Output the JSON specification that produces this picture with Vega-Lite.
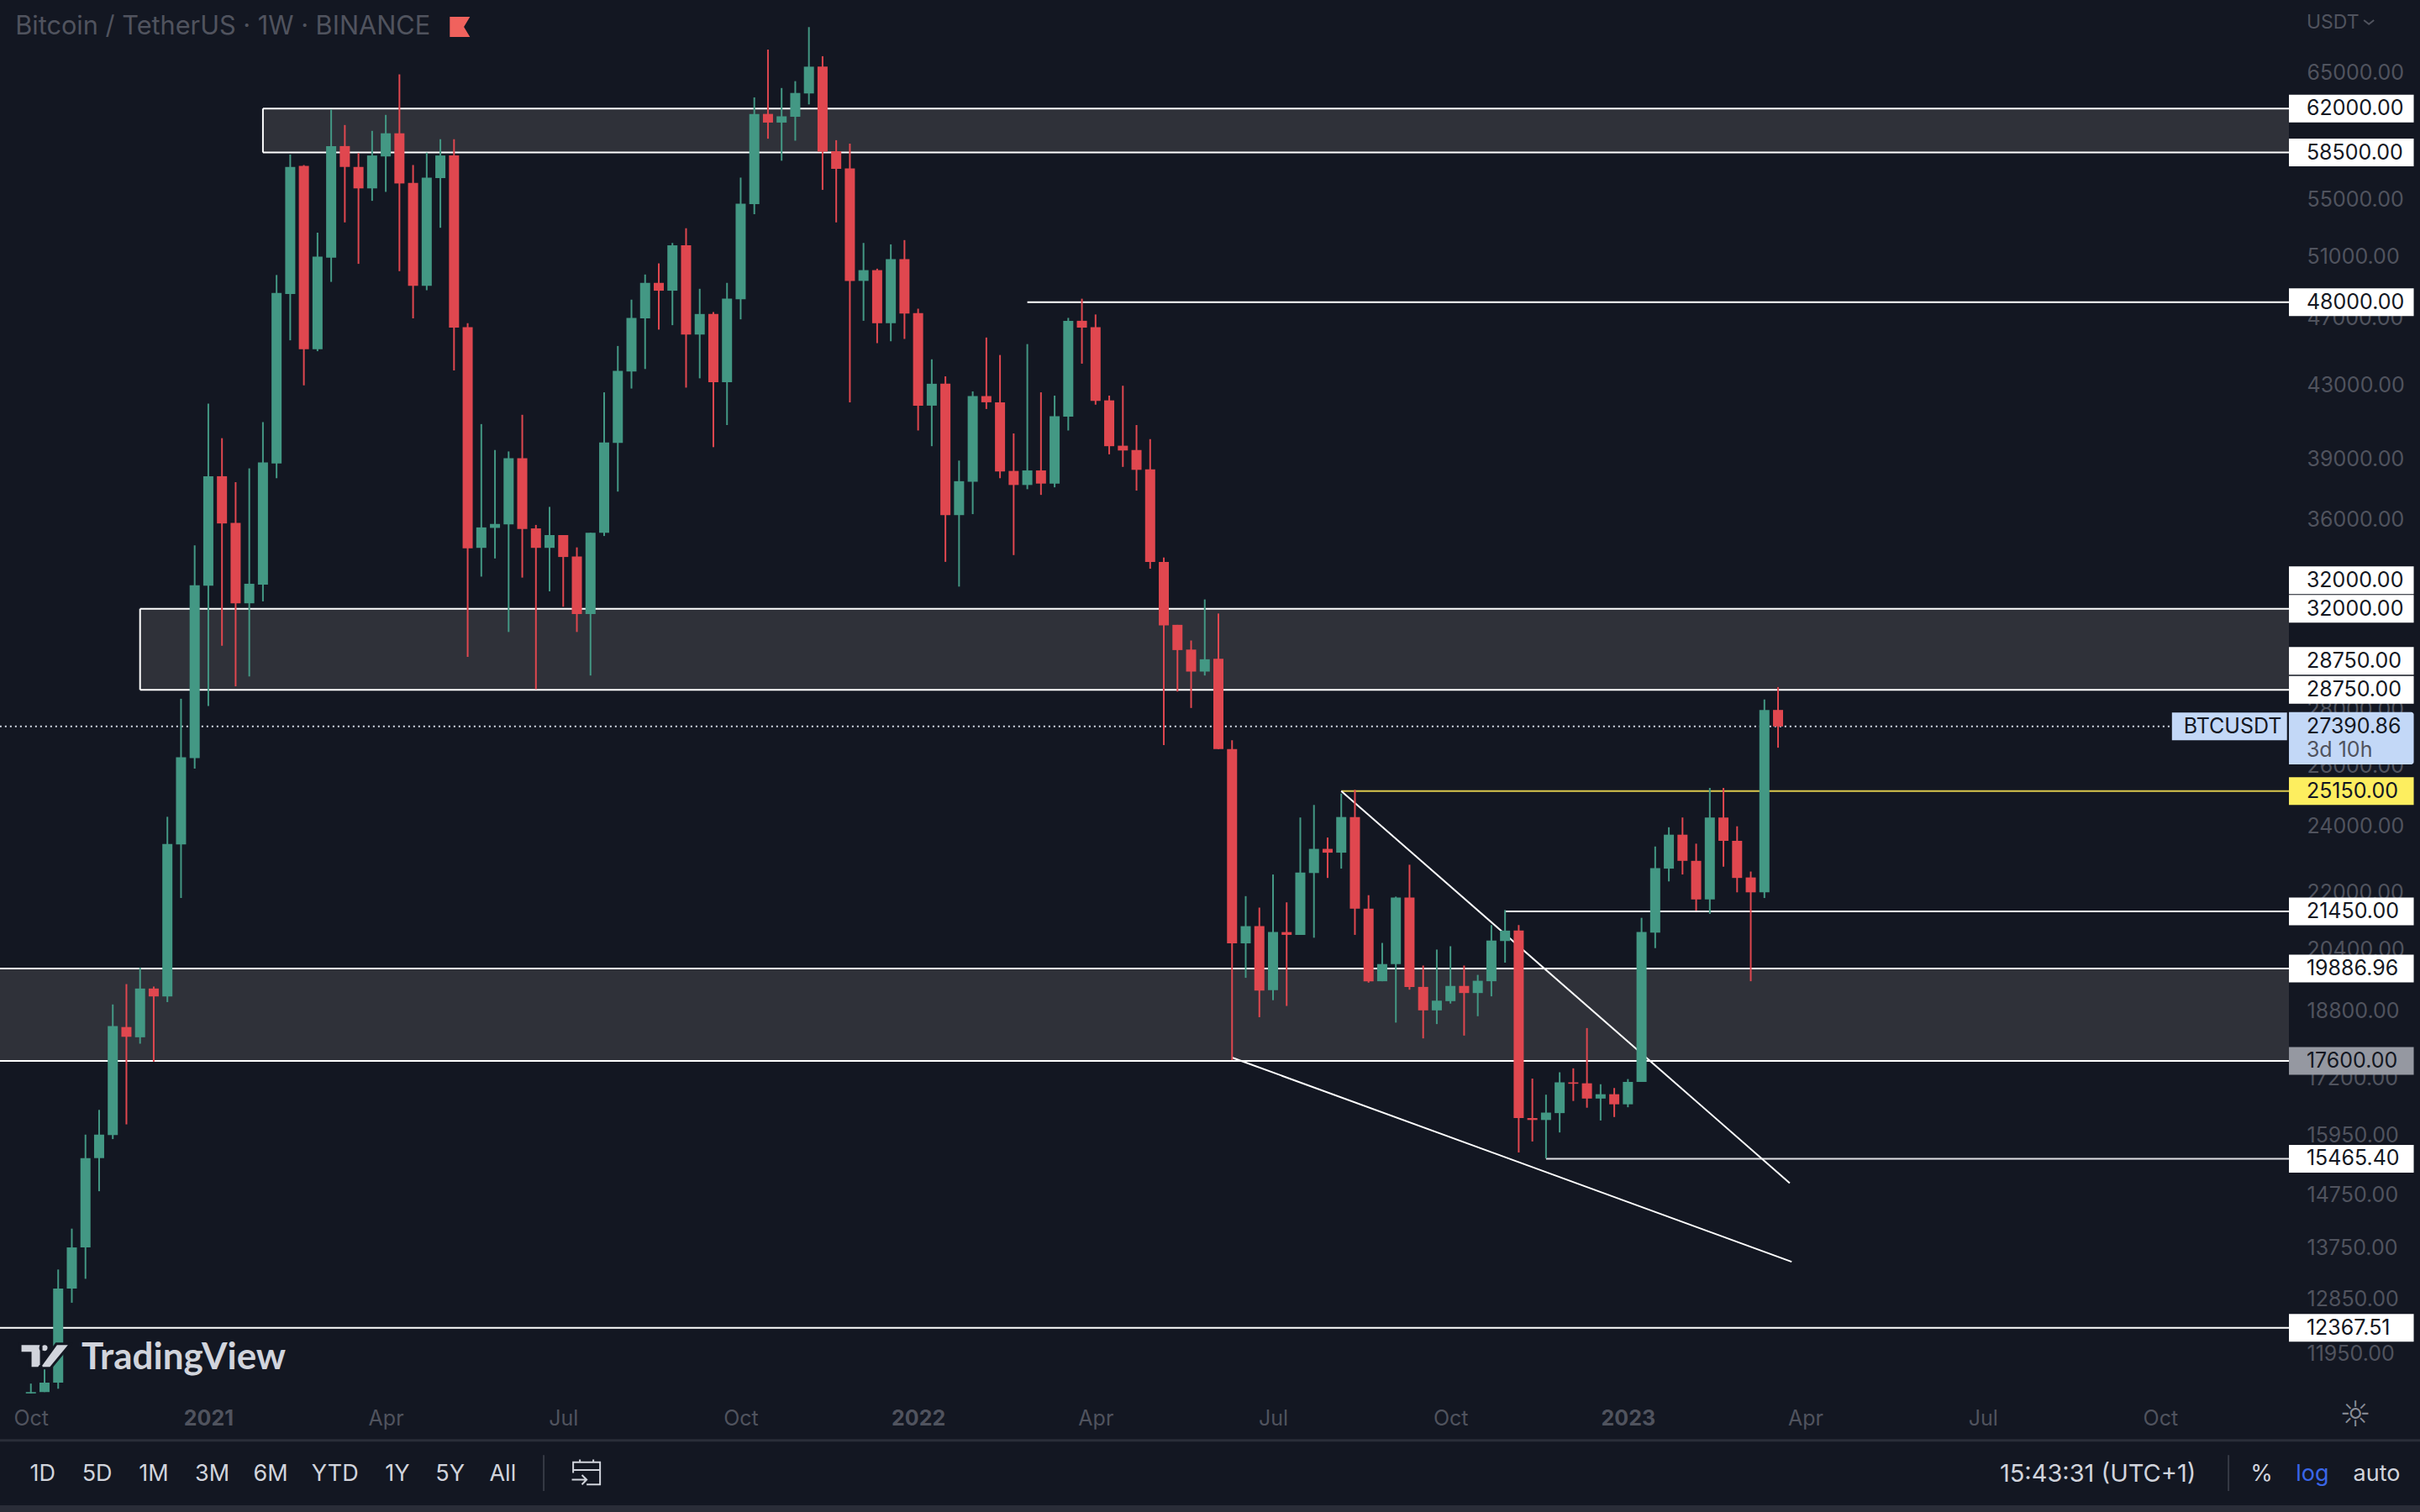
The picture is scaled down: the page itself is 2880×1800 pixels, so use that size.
{
  "$schema": "https://vega.github.io/schema/vega-lite/v6.json",
  "width": 2880,
  "height": 1800,
  "autosize": {"type": "none"},
  "padding": 0,
  "background": "#131722",
  "config": {"view": {"stroke": null}, "font": "Inter", "scale": {"continuousPadding": 0}},
  "resolve": {"axis": {"x": "independent", "y": "independent"}},
  "datasets": {
    "candles": [
      {"date":"2020-10-05","open":11340,"high":11489,"low":11340,"close":11361},
      {"date":"2020-10-12","open":11361,"high":11730,"low":11361,"close":11503},
      {"date":"2020-10-19","open":11503,"high":13359,"low":11411,"close":13027},
      {"date":"2020-10-26","open":13027,"high":14101,"low":12785,"close":13755},
      {"date":"2020-11-02","open":13755,"high":15967,"low":13196,"close":15479},
      {"date":"2020-11-09","open":15479,"high":16498,"low":14816,"close":15967},
      {"date":"2020-11-16","open":15957,"high":18966,"low":15873,"close":18433},
      {"date":"2020-11-23","open":18408,"high":19483,"low":16185,"close":18172},
      {"date":"2020-11-30","open":18160,"high":19912,"low":18007,"close":19369},
      {"date":"2020-12-07","open":19369,"high":19420,"low":17584,"close":19168},
      {"date":"2020-12-14","open":19168,"high":24306,"low":19025,"close":23451},
      {"date":"2020-12-21","open":23436,"high":28411,"low":21832,"close":26296},
      {"date":"2020-12-28","open":26264,"high":34794,"low":25906,"close":33015},
      {"date":"2021-01-04","open":32994,"high":41966,"low":28140,"close":38130},
      {"date":"2021-01-11","open":38130,"high":40097,"low":30474,"close":35822},
      {"date":"2021-01-18","open":35845,"high":37831,"low":28882,"close":32233},
      {"date":"2021-01-25","open":32233,"high":38528,"low":29262,"close":33077},
      {"date":"2021-02-01","open":33036,"high":40958,"low":32316,"close":38827},
      {"date":"2021-02-08","open":38777,"high":49751,"low":38030,"close":48578},
      {"date":"2021-02-15","open":48518,"high":58340,"low":45634,"close":57392},
      {"date":"2021-02-22","open":57465,"high":57538,"low":43003,"close":45097},
      {"date":"2021-03-01","open":45097,"high":52614,"low":44984,"close":50972},
      {"date":"2021-03-08","open":50907,"high":61909,"low":49301,"close":58997},
      {"date":"2021-03-15","open":58997,"high":60663,"low":53334,"close":57392},
      {"date":"2021-03-22","open":57392,"high":58450,"low":50490,"close":55786},
      {"date":"2021-03-29","open":55786,"high":60196,"low":54875,"close":58267},
      {"date":"2021-04-05","open":58194,"high":61480,"low":55530,"close":60002},
      {"date":"2021-04-12","open":60002,"high":64864,"low":50004,"close":56151},
      {"date":"2021-04-19","open":56187,"high":57538,"low":46980,"close":49044},
      {"date":"2021-04-26","open":49044,"high":58487,"low":48759,"close":56588},
      {"date":"2021-05-03","open":56552,"high":59535,"low":52957,"close":58267},
      {"date":"2021-05-10","open":58267,"high":59535,"low":43852,"close":46407},
      {"date":"2021-05-17","open":46437,"high":46678,"low":30030,"close":34662},
      {"date":"2021-05-24","open":34684,"high":40852,"low":33391,"close":35635},
      {"date":"2021-05-31","open":35612,"high":39474,"low":34202,"close":35799},
      {"date":"2021-06-07","open":35776,"high":39400,"low":31034,"close":39051},
      {"date":"2021-06-14","open":39051,"high":41356,"low":33347,"close":35565},
      {"date":"2021-06-21","open":35588,"high":35752,"low":28773,"close":34684},
      {"date":"2021-06-28","open":34684,"high":36616,"low":32748,"close":35276},
      {"date":"2021-07-05","open":35276,"high":35276,"low":32089,"close":34268},
      {"date":"2021-07-12","open":34290,"high":34706,"low":31034,"close":31781},
      {"date":"2021-07-19","open":31781,"high":35385,"low":29298,"close":35385},
      {"date":"2021-07-26","open":35385,"high":42603,"low":35232,"close":39873},
      {"date":"2021-08-02","open":39848,"high":45295,"low":37364,"close":43824},
      {"date":"2021-08-09","open":43795,"high":48156,"low":42816,"close":47010},
      {"date":"2021-08-16","open":46980,"high":49783,"low":43937,"close":49237},
      {"date":"2021-08-23","open":49237,"high":50522,"low":46286,"close":48729},
      {"date":"2021-08-30","open":48729,"high":51904,"low":46558,"close":51743},
      {"date":"2021-09-06","open":51743,"high":52924,"low":42869,"close":45985},
      {"date":"2021-09-13","open":45985,"high":48851,"low":43399,"close":47251},
      {"date":"2021-09-20","open":47251,"high":47372,"low":39624,"close":43173},
      {"date":"2021-09-27","open":43173,"high":49237,"low":40799,"close":48216},
      {"date":"2021-10-04","open":48186,"high":56588,"low":46919,"close":54669},
      {"date":"2021-10-11","open":54635,"high":62920,"low":53916,"close":61558},
      {"date":"2021-10-18","open":61558,"high":67021,"low":59574,"close":60858},
      {"date":"2021-10-25","open":60858,"high":63703,"low":57866,"close":61364},
      {"date":"2021-11-01","open":61325,"high":64284,"low":59418,"close":63288},
      {"date":"2021-11-08","open":63247,"high":69046,"low":62337,"close":65528},
      {"date":"2021-11-15","open":65528,"high":66440,"low":55676,"close":58560},
      {"date":"2021-11-22","open":58596,"high":59457,"low":53334,"close":57246},
      {"date":"2021-11-29","open":57282,"high":59185,"low":42046,"close":49366},
      {"date":"2021-12-06","open":49366,"high":51904,"low":46829,"close":50072},
      {"date":"2021-12-13","open":50072,"high":50168,"low":45465,"close":46678},
      {"date":"2021-12-20","open":46678,"high":51807,"low":45578,"close":50811},
      {"date":"2021-12-27","open":50811,"high":52101,"low":45719,"close":47281},
      {"date":"2022-01-03","open":47312,"high":47583,"low":40507,"close":41860},
      {"date":"2022-01-10","open":41860,"high":44503,"low":39674,"close":43088},
      {"date":"2022-01-17","open":43088,"high":43512,"low":34048,"close":36219},
      {"date":"2022-01-24","open":36219,"high":38926,"low":32953,"close":37881},
      {"date":"2022-01-31","open":37856,"high":42656,"low":36266,"close":42391},
      {"date":"2022-02-07","open":42391,"high":45804,"low":41674,"close":42046},
      {"date":"2022-02-14","open":42046,"high":44757,"low":38030,"close":38373},
      {"date":"2022-02-21","open":38398,"high":40348,"low":34355,"close":37691},
      {"date":"2022-02-28","open":37691,"high":45408,"low":37481,"close":38423},
      {"date":"2022-03-07","open":38423,"high":42603,"low":37200,"close":37761},
      {"date":"2022-03-14","open":37761,"high":42418,"low":37574,"close":41276},
      {"date":"2022-03-21","open":41250,"high":47010,"low":40507,"close":46829},
      {"date":"2022-03-28","open":46829,"high":48216,"low":44248,"close":46407},
      {"date":"2022-04-04","open":46437,"high":47221,"low":41913,"close":42126},
      {"date":"2022-04-11","open":42152,"high":42418,"low":39250,"close":39674},
      {"date":"2022-04-18","open":39699,"high":42975,"low":38603,"close":39450},
      {"date":"2022-04-25","open":39474,"high":40799,"low":37411,"close":38453},
      {"date":"2022-05-02","open":38478,"high":40047,"low":33741,"close":34048},
      {"date":"2022-05-09","open":34048,"high":34245,"low":26724,"close":31308},
      {"date":"2022-05-16","open":31328,"high":31328,"low":28683,"close":30300},
      {"date":"2022-05-23","open":30320,"high":30686,"low":28067,"close":29451},
      {"date":"2022-05-30","open":29451,"high":32398,"low":29298,"close":29934},
      {"date":"2022-06-06","open":29950,"high":31801,"low":26581,"close":26581},
      {"date":"2022-06-13","open":26581,"high":26897,"low":17623,"close":20561},
      {"date":"2022-06-20","open":20561,"high":21886,"low":19645,"close":21034},
      {"date":"2022-06-27","open":21034,"high":21556,"low":18649,"close":19315},
      {"date":"2022-07-04","open":19327,"high":22521,"low":19073,"close":20870},
      {"date":"2022-07-11","open":20870,"high":21707,"low":18928,"close":20793},
      {"date":"2022-07-18","open":20793,"high":24284,"low":20793,"close":22579},
      {"date":"2022-07-25","open":22565,"high":24690,"low":20715,"close":23297},
      {"date":"2022-08-01","open":23297,"high":23649,"low":22418,"close":23180},
      {"date":"2022-08-08","open":23180,"high":25064,"low":22696,"close":24299},
      {"date":"2022-08-15","open":24299,"high":25189,"low":20793,"close":21529},
      {"date":"2022-08-22","open":21529,"high":21913,"low":19520,"close":19557},
      {"date":"2022-08-29","open":19557,"high":20573,"low":19557,"close":20006},
      {"date":"2022-09-05","open":20006,"high":21872,"low":18516,"close":21845},
      {"date":"2022-09-12","open":21845,"high":22814,"low":19339,"close":19411},
      {"date":"2022-09-19","open":19411,"high":19967,"low":18133,"close":18818},
      {"date":"2022-09-26","open":18818,"high":20393,"low":18480,"close":19061},
      {"date":"2022-10-03","open":19049,"high":20483,"low":18988,"close":19436},
      {"date":"2022-10-10","open":19436,"high":19967,"low":18201,"close":19254},
      {"date":"2022-10-17","open":19254,"high":19722,"low":18673,"close":19569},
      {"date":"2022-10-24","open":19557,"high":21064,"low":19170,"close":20638},
      {"date":"2022-10-31","open":20625,"high":21487,"low":20044,"close":20911},
      {"date":"2022-11-07","open":20911,"high":21064,"low":15594,"close":16321},
      {"date":"2022-11-14","open":16321,"high":17195,"low":15823,"close":16279},
      {"date":"2022-11-21","open":16279,"high":16833,"low":15474,"close":16439},
      {"date":"2022-11-28","open":16428,"high":17339,"low":16013,"close":17110},
      {"date":"2022-12-05","open":17110,"high":17430,"low":16694,"close":17078},
      {"date":"2022-12-12","open":17088,"high":18383,"low":16545,"close":16747},
      {"date":"2022-12-19","open":16747,"high":17067,"low":16268,"close":16843},
      {"date":"2022-12-26","open":16843,"high":16982,"low":16343,"close":16620},
      {"date":"2023-01-02","open":16620,"high":17184,"low":16556,"close":17120},
      {"date":"2023-01-09","open":17120,"high":21267,"low":17120,"close":20870},
      {"date":"2023-01-16","open":20857,"high":23370,"low":20432,"close":22711},
      {"date":"2023-01-23","open":22696,"high":23972,"low":22316,"close":23738},
      {"date":"2023-01-30","open":23738,"high":24284,"low":22521,"close":22931},
      {"date":"2023-02-06","open":22931,"high":23458,"low":21474,"close":21790},
      {"date":"2023-02-13","open":21790,"high":25252,"low":21378,"close":24284},
      {"date":"2023-02-20","open":24284,"high":25252,"low":22755,"close":23546},
      {"date":"2023-02-27","open":23546,"high":24003,"low":21996,"close":22418},
      {"date":"2023-03-06","open":22433,"high":22609,"low":19557,"close":21996},
      {"date":"2023-03-13","open":21996,"high":28384,"low":21831,"close":27994},
      {"date":"2023-03-20","open":27994,"high":28853,"low":26631,"close":27390.86}
    ],
    "zones": [
      {"date":"2021-02-01","end":"2023-12-07","low":58500,"high":62000},
      {"date":"2020-11-30","end":"2023-12-07","low":28750,"high":32000},
      {"date":"2020-09-01","end":"2023-12-07","low":17600,"high":19886.96}
    ],
    "rays": [
      {"date":"2022-02-28","end":"2023-12-07","price":48000,"kind":"white"},
      {"date":"2022-08-08","end":"2023-12-07","price":25150,"kind":"yellow"},
      {"date":"2022-10-31","end":"2023-12-07","price":21450,"kind":"white"},
      {"date":"2022-11-21","end":"2023-12-07","price":15465.4,"kind":"grey"},
      {"date":"2020-09-01","end":"2023-12-07","price":12367.51,"kind":"white"}
    ],
    "trend": [
      {"line":"upper","date":"2022-08-08","price":25150},
      {"line":"upper","date":"2023-03-26","price":14977},
      {"line":"lower","date":"2022-06-13","price":17680},
      {"line":"lower","date":"2023-03-27","price":13496}
    ],
    "levels": [
      {"date":"2023-12-07","price":62000,"label":"62000.00","kind":"white"},
      {"date":"2023-12-07","price":58500,"label":"58500.00","kind":"white"},
      {"date":"2023-12-07","price":48000,"label":"48000.00","kind":"white"},
      {"date":"2023-12-07","price":33229,"label":"32000.00","kind":"white"},
      {"date":"2023-12-07","price":32000,"label":"32000.00","kind":"white"},
      {"date":"2023-12-07","price":29870,"label":"28750.00","kind":"white"},
      {"date":"2023-12-07","price":28750,"label":"28750.00","kind":"white"},
      {"date":"2023-12-07","price":25150,"label":"25150.00","kind":"yellow"},
      {"date":"2023-12-07","price":21450,"label":"21450.00","kind":"white"},
      {"date":"2023-12-07","price":19886.96,"label":"19886.96","kind":"white"},
      {"date":"2023-12-07","price":17600,"label":"17600.00","kind":"grey"},
      {"date":"2023-12-07","price":15465.4,"label":"15465.40","kind":"white"},
      {"date":"2023-12-07","price":12367.51,"label":"12367.51","kind":"white"}
    ],
    "last": [{"date":"2020-09-01","end":"2023-10-08","price":27390.86,"top":27911,"bottom":26053}],
    "toolbar": [
      {"date":"2020-10-11","price":10191,"label":"1D"},
      {"date":"2020-11-08","price":10191,"label":"5D"},
      {"date":"2020-12-07","price":10191,"label":"1M"},
      {"date":"2021-01-06","price":10191,"label":"3M"},
      {"date":"2021-02-05","price":10191,"label":"6M"},
      {"date":"2021-03-10","price":10191,"label":"YTD"},
      {"date":"2021-04-11","price":10191,"label":"1Y"},
      {"date":"2021-05-08","price":10191,"label":"5Y"},
      {"date":"2021-06-04","price":10191,"label":"All"},
      {"date":"2023-08-31","price":10191,"label":"15:43:31 (UTC+1)"},
      {"date":"2023-11-23","price":10191,"label":"%"},
      {"date":"2024-01-21","price":10191,"label":"auto"}
    ],
    "separators": [
      {"date":"2021-06-25","low":9968,"high":10453},
      {"date":"2023-11-06","low":9968,"high":10453}
    ]
  },
  "encoding": {
    "x": {
      "field": "date",
      "type": "temporal",
      "title": null,
      "axis": null,
      "scale": {"type": "utc", "padding": 0, "domain": [{"year":2020,"month":9,"date":19,"hours":4,"utc":true},{"year":2024,"month":2,"date":12,"hours":5,"utc":true}]}
    },
    "y": {
      "field": "price",
      "type": "quantitative",
      "title": null,
      "axis": null,
      "scale": {"type": "log", "padding": 0, "domain": [9695, 71565], "nice": false}
    }
  },
  "layer": [
    {
      "data": {"name": "last"},
      "mark": {"type": "point", "opacity": 0},
      "encoding": {
        "x": {
          "field": "date",
          "type": "temporal",
          "title": null,
          "scale": {"type": "utc", "padding": 0, "domain": [{"year":2020,"month":9,"date":19,"hours":4,"utc":true},{"year":2024,"month":2,"date":12,"hours":5,"utc":true}]},
          "axis": {
            "orient": "bottom",
            "grid": false,
            "ticks": false,
            "domain": false,
            "labelPadding": -112,
            "labelBaseline": "middle",
            "labelAlign": "center",
            "labelFontSize": 25,
            "labelColor": "#50535e",
            "labelFontWeight": {"condition": {"test": "utcmonth(datum.value) == 0", "value": "bold"}, "value": "normal"},
            "labelOverlap": false,
            "labelFlush": false,
            "values": [
              {"year":2020,"month":10,"date":5,"utc":true},
              {"year":2021,"month":1,"date":4,"utc":true},
              {"year":2021,"month":4,"date":5,"utc":true},
              {"year":2021,"month":7,"date":5,"utc":true},
              {"year":2021,"month":10,"date":4,"utc":true},
              {"year":2022,"month":1,"date":3,"utc":true},
              {"year":2022,"month":4,"date":4,"utc":true},
              {"year":2022,"month":7,"date":4,"utc":true},
              {"year":2022,"month":10,"date":3,"utc":true},
              {"year":2023,"month":1,"date":2,"utc":true},
              {"year":2023,"month":4,"date":3,"utc":true},
              {"year":2023,"month":7,"date":3,"utc":true},
              {"year":2023,"month":10,"date":2,"utc":true}
            ],
            "labelExpr": "utcmonth(datum.value) == 0 ? utcFormat(datum.value, '%Y') : utcFormat(datum.value, '%b')"
          }
        },
        "y": {
          "field": "price",
          "type": "quantitative",
          "title": null,
          "scale": {"type": "log", "padding": 0, "domain": [9695, 71565], "nice": false},
          "axis": {
            "orient": "right",
            "grid": false,
            "ticks": false,
            "domain": false,
            "labelPadding": -135,
            "labelAlign": "left",
            "labelBaseline": "middle",
            "labelFontSize": 25,
            "labelColor": "#50535e",
            "labelOverlap": false,
            "labelFlush": false,
            "format": ".2f",
            "values": [65000,55000,51000,47000,43000,39000,36000,28000,26000,24000,22000,20400,18800,17200,15950,14750,13750,12850,11950]
          }
        }
      }
    },
    {
      "data": {"name": "zones"},
      "mark": {"type": "rect", "fill": "#2f3139", "clip": true},
      "encoding": {
        "x2": {"field": "end"},
        "y": {"field": "low", "type": "quantitative", "scale": {"type": "log", "padding": 0, "domain": [9695, 71565], "nice": false}, "axis": null},
        "y2": {"field": "high"}
      }
    },
    {
      "data": {"name": "zones"},
      "mark": {"type": "rule", "stroke": "#ffffff", "strokeWidth": 2, "clip": true},
      "encoding": {
        "x2": {"field": "end"},
        "y": {"field": "low", "type": "quantitative", "scale": {"type": "log", "padding": 0, "domain": [9695, 71565], "nice": false}, "axis": null}
      }
    },
    {
      "data": {"name": "zones"},
      "mark": {"type": "rule", "stroke": "#ffffff", "strokeWidth": 2, "clip": true},
      "encoding": {
        "x2": {"field": "end"},
        "y": {"field": "high", "type": "quantitative", "scale": {"type": "log", "padding": 0, "domain": [9695, 71565], "nice": false}, "axis": null}
      }
    },
    {
      "data": {"name": "zones"},
      "mark": {"type": "rule", "stroke": "#ffffff", "strokeWidth": 2, "clip": true},
      "encoding": {
        "y": {"field": "low", "type": "quantitative", "scale": {"type": "log", "padding": 0, "domain": [9695, 71565], "nice": false}, "axis": null},
        "y2": {"field": "high"}
      }
    },
    {
      "data": {"name": "last"},
      "mark": {"type": "rule", "stroke": "#d7dde8", "strokeWidth": 2, "strokeDash": [2, 4], "clip": true},
      "encoding": {"x2": {"field": "end"}}
    },
    {
      "data": {"name": "rays"},
      "mark": {"type": "rule", "strokeWidth": 2, "clip": true},
      "encoding": {
        "x2": {"field": "end"},
        "color": {"condition": [{"test": "datum.kind == 'yellow'", "value": "#dcc94e"}, {"test": "datum.kind == 'grey'", "value": "#dfe0e3"}], "value": "#ffffff"}
      }
    },
    {
      "data": {"name": "trend"},
      "mark": {"type": "line", "stroke": "#ffffff", "strokeWidth": 2, "clip": true},
      "encoding": {"detail": {"field": "line"}}
    },
    {
      "data": {"name": "candles"},
      "mark": {"type": "rule", "strokeWidth": 2},
      "encoding": {
        "y": {"field": "low", "type": "quantitative", "scale": {"type": "log", "padding": 0, "domain": [9695, 71565], "nice": false}, "axis": null},
        "y2": {"field": "high"},
        "color": {"condition": {"test": "datum.close >= datum.open", "value": "#439884"}, "value": "#e0474f"}
      }
    },
    {
      "data": {"name": "candles"},
      "mark": {"type": "bar", "width": 12},
      "encoding": {
        "y": {"field": "open", "type": "quantitative", "scale": {"type": "log", "padding": 0, "domain": [9695, 71565], "nice": false}, "axis": null},
        "y2": {"field": "close"},
        "color": {"condition": {"test": "datum.close >= datum.open", "value": "#439884"}, "value": "#e0474f"}
      }
    },
    {
      "data": {"name": "levels"},
      "mark": {"type": "rule", "strokeWidth": 33},
      "encoding": {
        "x": {"datum": {"year":2023,"month":12,"date":7,"utc":true}, "type": "temporal", "axis": null},
        "x2": {"datum": {"year":2024,"month":2,"date":9,"utc":true}},
        "color": {"condition": [{"test": "datum.kind == 'yellow'", "value": "#fdee5f"}, {"test": "datum.kind == 'grey'", "value": "#9598a1"}], "value": "#ffffff"}
      }
    },
    {
      "data": {"name": "last"},
      "mark": {"type": "bar", "fill": "#c3d8f7", "cornerRadiusTopRight": 3, "cornerRadiusBottomRight": 3},
      "encoding": {
        "x": {"datum": {"year":2023,"month":12,"date":7,"utc":true}, "type": "temporal", "axis": null},
        "x2": {"datum": {"year":2024,"month":2,"date":9,"utc":true}},
        "y": {"field": "top", "type": "quantitative", "scale": {"type": "log", "padding": 0, "domain": [9695, 71565], "nice": false}, "axis": null},
        "y2": {"field": "bottom"}
      }
    },
    {
      "data": {"name": "last"},
      "mark": {"type": "rule", "strokeWidth": 33, "stroke": "#c3d8f7"},
      "encoding": {
        "x": {"datum": {"year":2023,"month":10,"date":8,"utc":true}, "type": "temporal", "axis": null},
        "x2": {"datum": {"year":2023,"month":12,"date":6,"utc":true}}
      }
    },
    {
      "data": {"name": "levels"},
      "mark": {"type": "text", "align": "left", "baseline": "middle", "fontSize": 25, "fill": "#131722"},
      "encoding": {
        "x": {"datum": {"year":2023,"month":12,"date":16,"utc":true}, "type": "temporal", "axis": null},
        "text": {"field": "label"}
      }
    },
    {
      "data": {"values": [{"date":"2023-12-16","price":27390.86,"label":"27390.86"},{"date":"2023-10-14","price":27390.86,"label":"BTCUSDT"}]},
      "mark": {"type": "text", "align": "left", "baseline": "middle", "fontSize": 25, "fill": "#131722"},
      "encoding": {"text": {"field": "label"}}
    },
    {
      "data": {"values": [{"date":"2023-12-16","price":26533,"label":"3d 10h"}]},
      "mark": {"type": "text", "align": "left", "baseline": "middle", "fontSize": 25, "fill": "#50535e"},
      "encoding": {"text": {"field": "label"}}
    },
    {
      "data": {"values": [{"date":"2020-09-27","price":69066,"label":"Bitcoin / TetherUS · 1W · BINANCE"},{"date":"2023-12-16","price":69450,"label":"USDT"}]},
      "mark": {"type": "text", "align": "left", "baseline": "middle", "fill": "#50535e"},
      "encoding": {"text": {"field": "label"}, "size": {"condition": {"test": "datum.label == 'USDT'", "value": 23}, "value": 30.7}}
    },
    {
      "data": {"values": [{"date":"2024-01-17","price":69500}]},
      "mark": {"type": "point", "shape": "M-1,-.4 L0,.4 L1,-.4", "filled": false, "stroke": "#50535e", "strokeWidth": 2, "opacity": 1, "size": 144}
    },
    {
      "data": {"values": [{"date":"2021-05-13","price":69066}]},
      "mark": {"type": "point", "shape": "M-1,-1 H1 L.4,0 L1,1 H-1 Z", "filled": true, "fill": "#f0625d", "opacity": 1, "size": 576}
    },
    {
      "data": {"values": [{"date":"2020-10-12T11:00:00Z","price":11909}]},
      "mark": {"type": "point", "shape": "M-1,-.5 H-.167 V.467 H-.6 V-.133 H-1 Z M-.2,-.33 A.167,.167 0 1 0 .0,-.5 A.167,.167 0 0 0 -.2,-.33 Z M.433,-.5 H1 L.2,.467 H-.267 Z", "filled": true, "fill": "#d1d4dc", "stroke": "#131722", "strokeWidth": 3, "opacity": 1, "size": 3600}
    },
    {
      "data": {"values": [{"date":"2020-10-31","price":11882,"label":"TradingView"}]},
      "mark": {"type": "text", "align": "left", "baseline": "middle", "fontSize": 44, "fontWeight": 700, "fill": "#d1d4dc", "font": "Lato"},
      "encoding": {"text": {"field": "label"}}
    },
    {
      "data": {"values": [{"date":"2020-09-01","end":"2024-03-01","price":10658}]},
      "mark": {"type": "rule", "stroke": "#2a2e39", "strokeWidth": 3, "clip": true},
      "encoding": {"x2": {"field": "end"}}
    },
    {
      "data": {"values": [{"date":"2020-09-01","end":"2024-03-01","low":9000,"high":9781}]},
      "mark": {"type": "rect", "fill": "#2a2d38", "clip": true},
      "encoding": {
        "x2": {"field": "end"},
        "y": {"field": "low", "type": "quantitative", "scale": {"type": "log", "padding": 0, "domain": [9695, 71565], "nice": false}, "axis": null},
        "y2": {"field": "high"}
      }
    },
    {
      "data": {"name": "separators"},
      "mark": {"type": "rule", "stroke": "#363a45", "strokeWidth": 2},
      "encoding": {
        "y": {"field": "low", "type": "quantitative", "scale": {"type": "log", "padding": 0, "domain": [9695, 71565], "nice": false}, "axis": null},
        "y2": {"field": "high"}
      }
    },
    {
      "data": {"name": "toolbar"},
      "mark": {"type": "text", "align": "center", "baseline": "middle", "fill": "#d1d4dc"},
      "encoding": {"text": {"field": "label"}, "size": {"condition": {"test": "length(datum.label) > 5", "value": 29}, "value": 27}}
    },
    {
      "data": {"values": [{"date":"2023-12-19","price":10191,"label":"log"}]},
      "mark": {"type": "text", "align": "center", "baseline": "middle", "fontSize": 27, "fill": "#3a66e8"},
      "encoding": {"text": {"field": "label"}}
    },
    {
      "data": {"values": [{"date":"2024-01-10","price":11010,"label":"☼"}]},
      "mark": {"type": "text", "align": "center", "baseline": "middle", "fontSize": 42, "fill": "#8a8d97", "font": "DejaVu Sans"},
      "encoding": {"text": {"field": "label"}}
    },
    {
      "data": {"values": [{"date":"2021-07-17","price":10208}]},
      "mark": {"type": "point", "shape": "M-1,0 V-.8 H1 V.85 H0 M-1,-.22 H1 M-.5,-1 V-.8 M.5,-1 V-.8 M-1.1,.5 H0 M-.35,.15 L0,.5 L-.35,.85", "filled": false, "stroke": "#d1d4dc", "strokeWidth": 2, "opacity": 1, "size": 1024}
    }
  ]
}
